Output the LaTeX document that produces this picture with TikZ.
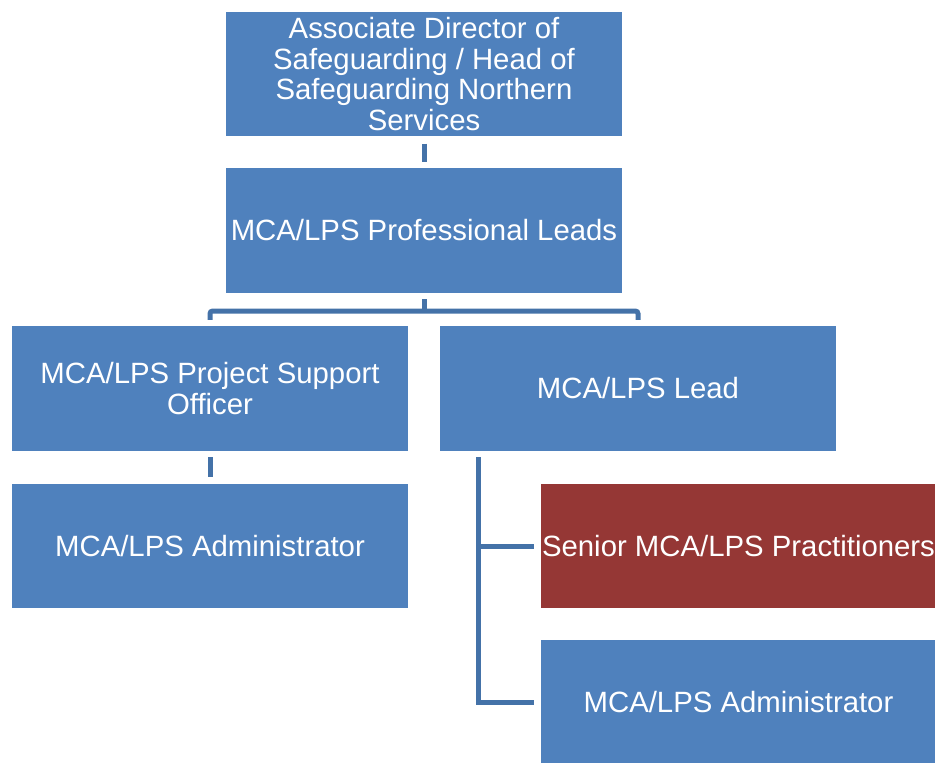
\documentclass[tikz,border=0pt]{standalone}
\usepackage{fontspec}
\setmainfont{Liberation Sans}
\usetikzlibrary{backgrounds}
\pgfdeclarelayer{edgelayer}
\pgfdeclarelayer{nodelayer}
\pgfsetlayers{edgelayer,nodelayer,main}
\definecolor{boxblue}{HTML}{4F81BD}
\definecolor{boxred}{HTML}{953735}
\definecolor{lineblue}{HTML}{4472A8}
\tikzset{font=\fontsize{22}{22.8}\selectfont}
\tikzstyle{none}=[inner sep=0pt]
\tikzstyle{post}=[fill=boxblue,text=white,minimum width=297pt,minimum height=93.5pt,inner sep=0pt,align=center]
\tikzstyle{redpost}=[post,fill=boxred]
\tikzstyle{link}=[draw=lineblue,line width=3.75pt,shorten <=4.5pt,shorten >=4.5pt]
\begin{document}
\begin{tikzpicture}[x=0.75pt,y=-0.75pt]
	\useasboundingbox (0,0) rectangle (935,763);
	\begin{pgfonlayer}{nodelayer}
		\node [style=post] (0) at (424, 74) {Associate Director of\\Safeguarding / Head of\\Safeguarding Northern\\Services};
		\node [style=post] (1) at (424, 230.5) {MCA/LPS Professional Leads};
		\node [style=post] (2) at (210, 388.5) {MCA/LPS Project Support\\Officer};
		\node [style=post] (3) at (638, 388.5) {MCA/LPS Lead};
		\node [style=post] (4) at (210, 546) {MCA/LPS Administrator};
		\node [style=redpost] (5) at (738.5, 546) {Senior MCA/LPS Practitioners};
		\node [style=post] (6) at (738.5, 702.5) {MCA/LPS Administrator};
		\node [style=none] (7) at (424, 311) {};
		\node [style=none] (8) at (478, 451) {};
	\end{pgfonlayer}
	\begin{pgfonlayer}{edgelayer}
		\draw [style=link, shorten <=5.25pt] (0) to (1);
		\draw [style=link, shorten >=0pt] (1) to (7.center);
		\draw [style=link, rounded corners=2pt] (2) |- (7.center) -| (3);
		\draw [style=link] (2) to (4);
		\draw [style=link] (8.center) |- (5);
		\draw [style=link] (8.center) |- (6);
	\end{pgfonlayer}
\end{tikzpicture}
\end{document}
